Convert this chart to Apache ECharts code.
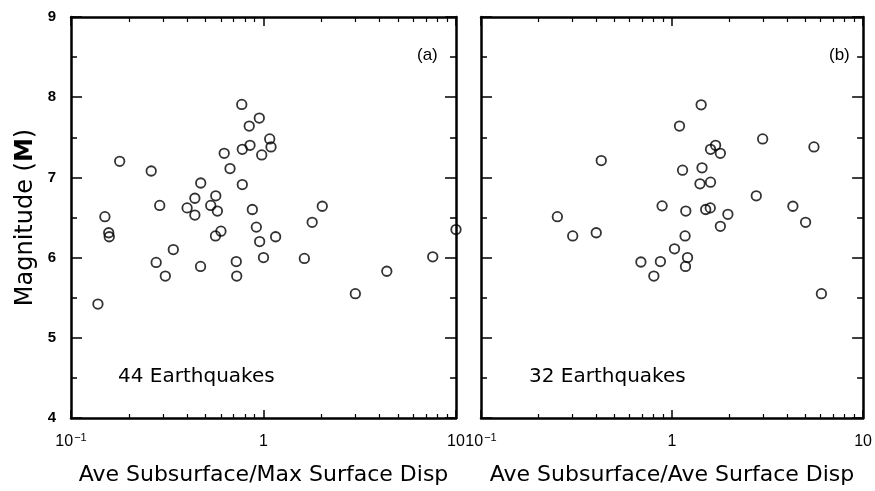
<!DOCTYPE html>
<html><head><meta charset="utf-8">
<script src="https://cdn.jsdelivr.net/npm/echarts@6/dist/echarts.min.js"></script>
<style>html,body{margin:0;padding:0;background:#fff}#c{width:875px;height:491px}</style>
</head><body><div id="c"></div>
<script>
// Panel (a): Ave Subsurface / Max Surface Disp vs Magnitude
const aX = [0.138,0.150,0.157,0.158,0.179,0.261,0.289,0.277,0.309,0.340,0.401,0.440,0.440,0.472,0.471,0.532,0.565,0.576,0.563,0.601,0.625,0.670,0.722,0.726,0.771,0.776,0.776,0.843,0.851,0.875,0.951,1.077,1.094,0.979,0.918,0.955,1.00,1.156,1.63,1.79,2.02,3.0,4.37,7.57,10.0];
const aY = [5.42,6.51,6.31,6.26,7.20,7.08,6.65,5.94,5.77,6.10,6.62,6.74,6.53,6.93,5.89,6.65,6.77,6.58,6.27,6.33,7.30,7.11,5.95,5.77,7.91,7.35,6.91,7.64,7.40,6.60,7.74,7.48,7.38,7.28,6.38,6.20,6.00,6.26,5.99,6.44,6.64,5.55,5.83,6.01,6.35];
// Panel (b): Ave Subsurface / Ave Surface Disp vs Magnitude
const bX = [0.251,0.302,0.401,0.426,0.687,0.803,0.869,0.887,1.03,1.094,1.135,1.17,1.176,1.18,1.205,1.40,1.42,1.435,1.50,1.585,1.59,1.59,1.69,1.79,1.79,1.96,2.76,2.98,4.29,5.0,5.53,6.05];
const bY = [6.51,6.27,6.31,7.21,5.945,5.77,5.95,6.645,6.11,7.64,7.09,6.27,5.89,6.58,6.00,6.92,7.905,7.12,6.60,6.62,7.35,6.94,7.40,7.30,6.39,6.54,6.77,7.48,6.64,6.44,7.38,5.55];

const xMajorTicks = [0.1, 1, 10];
const xMinorTicks = [0.2,0.3,0.4,0.5,0.6,0.7,0.8,0.9,2,3,4,5,6,7,8,9];
const yMin = 4, yMax = 9, yInterval = 1;
const xTitles = ['Ave Subsurface/Max Surface Disp', 'Ave Subsurface/Ave Surface Disp'];
const yTitle = 'Magnitude';
const panelLabels = ['(a)', '(b)'];
const countLabels = ['44 Earthquakes', '32 Earthquakes'];

const pairs = (xs, ys) => xs.map((x, i) => [x, ys[i]]);

const grids = [
  {left: 71, top: 17, width: 385, height: 405},
  {left: 481, top: 17, width: 386, height: 405}
];
const lineStyle = {color: '#000', width: 2.5};
const xTickFont = {fontFamily: 'Liberation Sans', fontSize: 16, color: '#000'};

function xLabelFmt(v) {
  const e = Math.round(Math.log10(v));
  if (e === -1) return '{n|10}{s|\u22121}';
  return '{n|' + (e === 0 ? '1' : '10') + '}';
}

const xAxes = [], yAxes = [];
grids.forEach((g, gi) => {
  // bottom major
  xAxes.push({
    type: 'log', logBase: 10, min: 0.1, max: 10, gridIndex: gi, position: 'bottom',
    axisLine: {show: true, lineStyle},
    axisTick: {show: true, inside: true, length: 8, lineStyle: {color: '#000', width: 1.5}, customValues: xMajorTicks},
    axisLabel: {show: true, margin: 14, customValues: xMajorTicks, formatter: xLabelFmt,
      rich: {n: Object.assign({}, xTickFont, {lineHeight: 20}), s: Object.assign({}, xTickFont, {fontSize: 11, lineHeight: 20, verticalAlign: 'top', padding: [0,0,9,1]})}},
    splitLine: {show: false},
    name: xTitles[gi], nameLocation: 'middle', nameGap: 46,
    nameTextStyle: {fontFamily: 'DejaVu Sans', fontSize: 22, color: '#000'}
  });
  // bottom minor
  xAxes.push({
    type: 'log', logBase: 10, min: 0.1, max: 10, gridIndex: gi, position: 'bottom',
    axisLine: {show: false},
    axisTick: {show: true, inside: true, length: 4, lineStyle: {color: '#000', width: 1.2}, customValues: xMinorTicks},
    axisLabel: {show: false}, splitLine: {show: false}
  });
  // top major
  xAxes.push({
    type: 'log', logBase: 10, min: 0.1, max: 10, gridIndex: gi, position: 'top',
    axisLine: {show: true, lineStyle},
    axisTick: {show: true, inside: true, length: 9, lineStyle: {color: '#000', width: 1.5}, customValues: xMajorTicks},
    axisLabel: {show: false}, splitLine: {show: false}
  });
  // top minor
  xAxes.push({
    type: 'log', logBase: 10, min: 0.1, max: 10, gridIndex: gi, position: 'top',
    axisLine: {show: false},
    axisTick: {show: true, inside: true, length: 5, lineStyle: {color: '#000', width: 1.2}, customValues: xMinorTicks},
    axisLabel: {show: false}, splitLine: {show: false}
  });
  // left
  yAxes.push({
    type: 'value', min: yMin, max: yMax, interval: yInterval, gridIndex: gi, position: 'left',
    axisLine: {show: true, lineStyle},
    axisTick: {show: true, inside: true, length: 11, lineStyle: {color: '#000', width: 1.5}},
    minorTick: {show: true, splitNumber: 2, length: 6, lineStyle: {color: '#000', width: 1.5}},
    axisLabel: {show: gi === 0, margin: 15, fontFamily: 'Liberation Sans', fontWeight: 'bold', fontSize: 15, color: '#000'},
    splitLine: {show: false},
    name: gi === 0 ? '{t|' + yTitle + ' (}{m|M}{t|)}' : '', nameLocation: 'middle', nameGap: 33, nameRotate: 90,
    nameTextStyle: {rich: {t: {fontFamily: 'DejaVu Sans', fontSize: 24, color: '#000'}, m: {fontFamily: 'DejaVu Sans', fontWeight: 'bold', fontSize: 24, color: '#000'}}}
  });
  // right
  yAxes.push({
    type: 'value', min: yMin, max: yMax, interval: yInterval, gridIndex: gi, position: 'right',
    axisLine: {show: true, lineStyle},
    axisTick: {show: true, inside: true, length: 11, lineStyle: {color: '#000', width: 1.5}},
    minorTick: {show: true, splitNumber: 2, length: 6, lineStyle: {color: '#000', width: 1.5}},
    axisLabel: {show: false}, splitLine: {show: false}
  });
});

const scatterStyle = {color: 'rgba(0,0,0,0)', borderColor: '#000', borderWidth: 1.8};
const option = {
  animation: false,
  backgroundColor: '#fff',
  grid: grids,
  xAxis: xAxes,
  yAxis: yAxes,
  series: [
    {type: 'scatter', xAxisIndex: 0, yAxisIndex: 0, data: pairs(aX, aY), symbol: 'circle', symbolSize: 9.5, itemStyle: scatterStyle, clip: false},
    {type: 'scatter', xAxisIndex: 4, yAxisIndex: 2, data: pairs(bX, bY), symbol: 'circle', symbolSize: 9.5, itemStyle: scatterStyle, clip: false}
  ],
  graphic: [
    {type: 'text', left: 417, top: 47, style: {text: panelLabels[0], font: '17px "Liberation Sans"', fill: '#000'}},
    {type: 'text', left: 829, top: 47, style: {text: panelLabels[1], font: '17px "Liberation Sans"', fill: '#000'}},
    {type: 'text', left: 118, top: 367, style: {text: countLabels[0], font: '20px "DejaVu Sans"', fill: '#000'}},
    {type: 'text', left: 529, top: 367, style: {text: countLabels[1], font: '20px "DejaVu Sans"', fill: '#000'}}
  ]
};
const chart = echarts.init(document.getElementById('c'), null, {renderer: 'canvas'});
chart.setOption(option);
</script>
</body></html>
